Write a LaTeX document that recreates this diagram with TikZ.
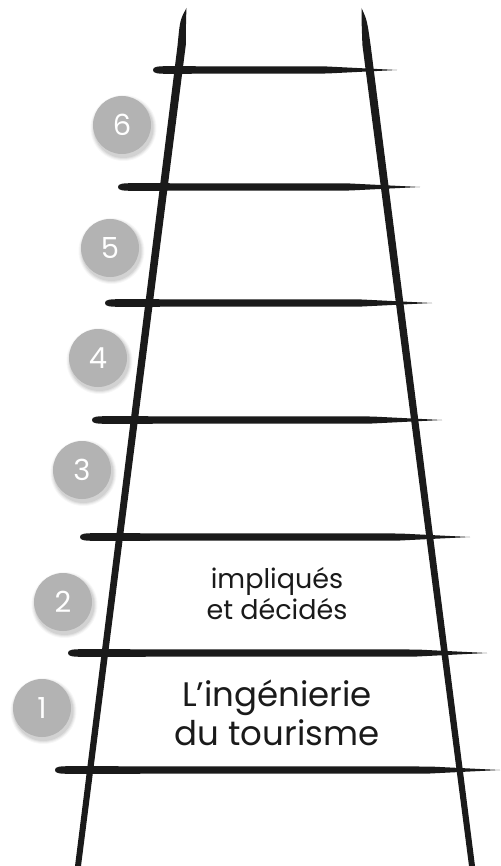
\documentclass[tikz,border=0pt]{standalone}
\usepackage{fontspec}
\setmainfont{Poppins}
\definecolor{ink}{HTML}{1A1A1A}
\definecolor{badge}{HTML}{B3B3B3}
\newcommand{\ladderrung}[3]{%
  \fill[ink] (#1,#3) .. controls (#1,#3-3.2) and (#1+4,#3-3.8) .. (#1+14,#3-3.8)
    -- (#2-70,#3-3.5) .. controls (#2-35,#3-2.4) .. (#2,#3)
    .. controls (#2-35,#3+1.8) .. (#2-70,#3+3.5)
    -- (#1+14,#3+3.8) .. controls (#1+4,#3+3.8) and (#1,#3+3.2) .. cycle;}
\tikzset{
  badgenode/.style={circle, fill=badge, minimum size=58pt, inner sep=0pt,
    text=white, font=\fontsize{29}{30}\selectfont},
  stepcap/.style={align=center, text=ink},
}
\newcommand{\badgeshadow}[2]{%
  \foreach \r/\o in {33/0.03,32/0.04,31/0.05,30/0.06}{
    \fill[black, opacity=\o] (#1+1.5,#2+3) circle[radius=\r];}}
\begin{document}
\begin{tikzpicture}[x=1pt,y=-1pt]
\useasboundingbox (0,0) rectangle (500,866);
\fill[white] (0,0) rectangle (500,866);
% rails
\fill[ink] (186.5,8) .. controls (186,20) .. (185.8,45) -- (81,866) -- (75,866) -- (177.6,45) .. controls (180,20) .. cycle;
\fill[ink] (361.5,8) .. controls (367,20) .. (370.6,45) -- (475,866) -- (469,866) -- (362.4,45) .. controls (361.5,20) .. cycle;
% rungs
\ladderrung{153}{397}{70}
\ladderrung{118}{420}{187}
\ladderrung{105}{432}{303}
\ladderrung{92}{442}{420}
\ladderrung{80}{470}{537}
\ladderrung{68}{487}{653}
\ladderrung{55}{500}{770}
% badges
\badgeshadow{122}{125}
\badgeshadow{110}{248}
\badgeshadow{98}{358}
\badgeshadow{82}{470}
\badgeshadow{63}{602}
\badgeshadow{42}{708}
\node[badgenode] (b6) at (122,125) {6};
\node[badgenode] (b5) at (110,248) {5};
\node[badgenode] (b4) at (98,358) {4};
\node[badgenode] (b3) at (82,470) {3};
\node[badgenode] (b2) at (63,602) {2};
\node[badgenode] (b1) at (42,708) {1};
% texts
\node[stepcap, font=\fontsize{27}{31}\selectfont] (t2) at (277,594) {impliqués\\et décidés};
\node[stepcap, font=\fontsize{34}{39}\selectfont] (t1) at (277,713) {L’ingénierie\\du tourisme};
\end{tikzpicture}
\end{document}
